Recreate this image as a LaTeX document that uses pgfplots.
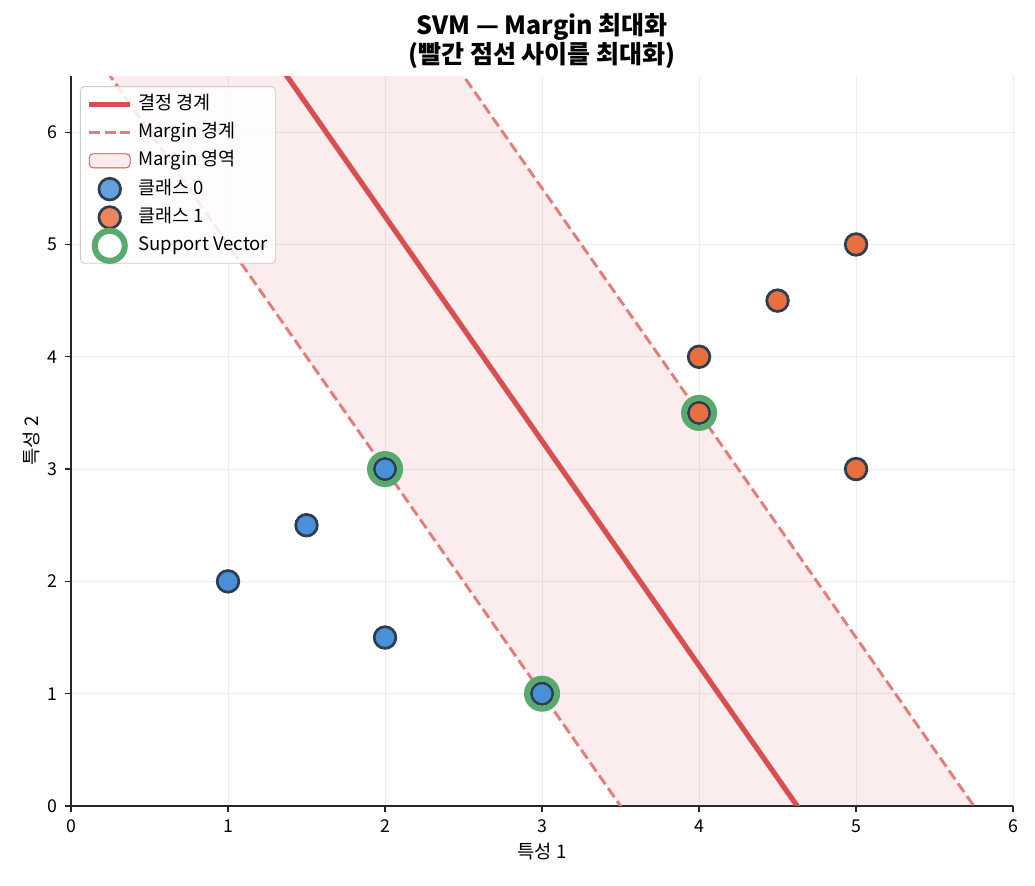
\documentclass[border=0pt]{standalone}
\usepackage{fontspec}
\setmainfont{Noto Sans CJK KR}
\usepackage{pgfplots}
\pgfplotsset{compat=1.18}

\definecolor{boundary}{RGB}{217,79,79}
\definecolor{marginline}{RGB}{228,124,124}
\definecolor{clszero}{RGB}{74,144,217}
\definecolor{clsone}{RGB}{232,112,64}
\definecolor{edgec}{RGB}{44,62,80}
\definecolor{svgreen}{RGB}{90,170,110}

\begin{document}
\begin{tikzpicture}[x=1pt,y=1pt]
\fill[white] (-34.08pt,-37.92pt) rectangle (462.72pt,386.88pt);
\useasboundingbox (-34.08pt,-37.92pt) rectangle (462.72pt,386.88pt);
\begin{axis}[
  at={(0,0)}, anchor=south west,
  scale only axis, width=452.2pt, height=350.4pt,
  xmin=0, xmax=6, ymin=0, ymax=6.5,
  xtick={0,...,6}, ytick={0,...,6},
  axis x line*=bottom, axis y line*=left,
  axis line style={line width=0.6pt, color=black!85, -},
  tick style={line width=0.6pt, color=black!85},
  tick align=outside, major tick length=3pt,
  grid=major, grid style={line width=0.4pt, color=black!7},
  tick label style={font=\fontsize{8.5}{10}\selectfont},
  /pgf/number format/assume math mode=true,
  xlabel={특성 1}, ylabel={특성 2},
  label style={font=\fontsize{9}{11}\selectfont},
  xlabel style={yshift=2pt}, ylabel style={yshift=-3pt},
  title={\textbf{SVM — Margin 최대화}\\\textbf{(빨간 점선 사이를 최대화)}},
  title style={font=\fontsize{12}{14}\selectfont, align=center,
    at={(0.5,1)}, anchor=south, inner sep=0pt, yshift=-2.5pt},
  legend style={at={(0.0095,0.986)}, anchor=north west,
    font=\fontsize{8.9}{10}\selectfont,
    draw=black!20, rounded corners=2pt, fill=white, fill opacity=0.85, text opacity=1,
    row sep=3.6pt, inner xsep=3pt, inner ysep=3.4pt,
    nodes={inner sep=0.6pt, text height=6.8pt, text depth=2pt},
    column sep=2pt},
  legend cell align=left,
  clip mode=individual,
]
% margin band between the two dashed lines
\addplot[draw=none, fill=boundary, fill opacity=0.1, forget plot]
  coordinates {(-1,9) (4.5,-2) (6.75,-2) (1,9.5)} -- cycle;
% decision boundary y = -2x + 9.25
\addplot[boundary, line width=2.5pt, forget plot] coordinates {(1,7.25) (5,-0.75)};
% margin lines y = -2x + 7 and y = -2x + 11.5
\addplot[marginline, line width=1.4pt, dash pattern=on 5.2pt off 2.3pt, forget plot]
  coordinates {(0,7) (4,-1)};
\addplot[marginline, line width=1.4pt, dash pattern=on 5.2pt off 2.3pt, forget plot]
  coordinates {(2,7.5) (6,-0.5)};
\addplot[only marks, mark=*, mark size=5.2pt,
  mark options={fill=clszero, draw=edgec, line width=1.3pt}, forget plot]
  coordinates {(1,2) (1.5,2.5) (2,1.5) (2,3) (3,1)};
\addplot[only marks, mark=*, mark size=5.2pt,
  mark options={fill=clsone, draw=edgec, line width=1.3pt}, forget plot]
  coordinates {(4,4) (4.5,4.5) (5,5) (5,3) (4,3.5)};
\addplot[only marks, mark=o, mark size=7.2pt,
  mark options={draw=svgreen, line width=2.9pt}, forget plot]
  coordinates {(2,3) (3,1) (4,3.5)};

\addlegendimage{legend image code/.code={\draw[boundary, line width=2.5pt] (0pt,0pt) -- (19.7pt,0pt);}}
\addlegendentry{결정 경계}
\addlegendimage{legend image code/.code={\draw[marginline, line width=1.4pt, dash pattern=on 5.2pt off 2.3pt] (0pt,0pt) -- (19.7pt,0pt);}}
\addlegendentry{Margin 경계}
\addlegendimage{legend image code/.code={\fill[boundary, fill opacity=0.1] (0pt,-3.4pt) rectangle (19.7pt,3.4pt); \draw[boundary, draw opacity=0.07, line width=0.8pt] (0pt,-3.4pt) rectangle (19.7pt,3.4pt);}}
\addlegendentry{Margin 영역}
\addlegendimage{legend image code/.code={\path[draw=none,fill=none] (0pt,-3pt) rectangle (19.7pt,3pt); \begin{pgfinterruptboundingbox}\filldraw[fill=clszero, draw=edgec, line width=1.3pt] (9.85pt,0pt) circle (5.2pt);\end{pgfinterruptboundingbox}}}
\addlegendentry{클래스 0}
\addlegendimage{legend image code/.code={\path[draw=none,fill=none] (0pt,-3pt) rectangle (19.7pt,3pt); \begin{pgfinterruptboundingbox}\filldraw[fill=clsone, draw=edgec, line width=1.3pt] (9.85pt,0pt) circle (5.2pt);\end{pgfinterruptboundingbox}}}
\addlegendentry{클래스 1}
\addlegendimage{legend image code/.code={\path[draw=none,fill=none] (0pt,-3pt) rectangle (19.7pt,3pt); \begin{pgfinterruptboundingbox}\draw[svgreen, line width=2.9pt] (9.85pt,0pt) circle (7.2pt);\end{pgfinterruptboundingbox}}}
\addlegendentry{Support Vector}
\end{axis}
\end{tikzpicture}
\end{document}
